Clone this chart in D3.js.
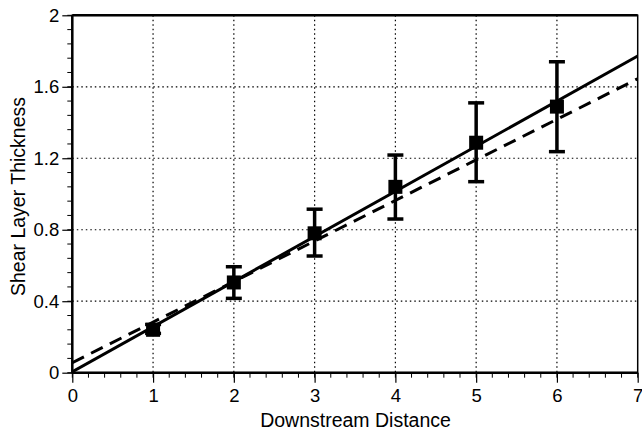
<!DOCTYPE html>
<html><head><meta charset="utf-8">
<script src="https://cdn.jsdelivr.net/npm/d3@7"></script>
<style>body{margin:0;background:#fff}text{font-family:"Liberation Sans",Arial,Helvetica,sans-serif;fill:#000}</style>
</head><body>
<svg id="c" width="642" height="435"></svg>
<script>
const xPts = [1, 2, 3, 4, 5, 6];
const yPts = [0.24, 0.505, 0.78, 1.04, 1.287, 1.489];
const errLo = [0.22, 0.416, 0.653, 0.86, 1.069, 1.237];
const errHi = [0.27, 0.593, 0.915, 1.218, 1.51, 1.74];
const solidLine = [[0, 0.005], [7, 1.772]];
const dashedLine = [[0, 0.056], [7, 1.645]];
const xTicks = [0, 1, 2, 3, 4, 5, 6, 7];
const yTicks = [0, 0.4, 0.8, 1.2, 1.6, 2];
const yTickLabels = ["0", "0.4", "0.8", "1.2", "1.6", "2"];

const svg = d3.select("#c");
const m = {l: 72.3, r: 637.7, t: 15.3, b: 372.7};
const x = d3.scaleLinear().domain([0, 7]).range([m.l, m.r]);
const y = d3.scaleLinear().domain([0, 2]).range([m.b, m.t]);

// grid
const g = svg.append("g");
g.selectAll(".vg").data(xTicks.slice(1, -1)).enter().append("line")
  .attr("x1", d => x(d)).attr("x2", d => x(d)).attr("y1", m.t).attr("y2", m.b)
  .attr("stroke", "#000").attr("stroke-width", 1.2).attr("stroke-dasharray", "1.5,3");
g.selectAll(".hg").data(yTicks.slice(1, -1)).enter().append("line")
  .attr("y1", d => y(d)).attr("y2", d => y(d)).attr("x1", m.l).attr("x2", m.r)
  .attr("stroke", "#000").attr("stroke-width", 1.2).attr("stroke-dasharray", "1.5,3");

// minor ticks
const xMinor = d3.range(0, 7.0001, 0.2);
const yMinor = d3.range(0, 2.0001, 0.08);
svg.append("g").selectAll("line").data(xMinor).enter().append("line")
  .attr("x1", d => x(d)).attr("x2", d => x(d)).attr("y1", m.b).attr("y2", m.b + 5)
  .attr("stroke", "#000").attr("stroke-width", 1);
svg.append("g").selectAll("line").data(yMinor).enter().append("line")
  .attr("y1", d => y(d)).attr("y2", d => y(d)).attr("x1", m.l).attr("x2", m.l - 5)
  .attr("stroke", "#000").attr("stroke-width", 1);

// axes
const xAxis = svg.append("g").attr("transform", `translate(0,${m.b})`)
  .call(d3.axisBottom(x).tickValues(xTicks).tickFormat(d3.format("d")).tickSize(10).tickPadding(6));
const yAxis = svg.append("g").attr("transform", `translate(${m.l},0)`)
  .call(d3.axisLeft(y).tickValues(yTicks).tickFormat((d, i) => yTickLabels[i]).tickSize(10).tickPadding(3));
[xAxis, yAxis].forEach(a => {
  a.select(".domain").remove();
  a.selectAll(".tick line").attr("stroke", "#000").attr("stroke-width", 1.2);
  a.selectAll(".tick text").style("font-size", "18.5px").style("font-family", '"Liberation Sans",Arial,sans-serif');
});

// frame
svg.append("rect").attr("x", m.l).attr("y", m.t).attr("width", m.r - m.l).attr("height", m.b - m.t)
  .attr("fill", "none").attr("stroke", "#000").attr("stroke-width", 1.5);
svg.append("line").attr("x1", m.l).attr("x2", m.r).attr("y1", m.b).attr("y2", m.b).attr("stroke", "#000").attr("stroke-width", 2.5);
svg.append("line").attr("x1", m.l).attr("x2", m.l).attr("y1", m.t).attr("y2", m.b).attr("stroke", "#000").attr("stroke-width", 2.5);
svg.append("line").attr("x1", m.l).attr("x2", m.r).attr("y1", m.t).attr("y2", m.t).attr("stroke", "#000").attr("stroke-width", 2.5);

// fit lines
const line = d3.line().x(d => x(d[0])).y(d => y(d[1]));
svg.append("clipPath").attr("id", "pc").append("rect")
  .attr("x", m.l).attr("y", m.t).attr("width", m.r - m.l).attr("height", m.b - m.t);
svg.append("path").datum(solidLine).attr("d", line).attr("clip-path", "url(#pc)")
  .attr("fill", "none").attr("stroke", "#000").attr("stroke-width", 3);
svg.append("path").datum(dashedLine).attr("d", line).attr("clip-path", "url(#pc)")
  .attr("fill", "none").attr("stroke", "#000").attr("stroke-width", 3).attr("stroke-dasharray", "13,8");

// error bars
const eb = svg.append("g");
xPts.forEach((xv, i) => {
  eb.append("line").attr("x1", x(xv)).attr("x2", x(xv)).attr("y1", y(errLo[i])).attr("y2", y(errHi[i]))
    .attr("stroke", "#000").attr("stroke-width", 3.5);
  [errLo[i], errHi[i]].forEach(v => {
    eb.append("line").attr("x1", x(xv) - 8).attr("x2", x(xv) + 8).attr("y1", y(v)).attr("y2", y(v))
      .attr("stroke", "#000").attr("stroke-width", 3.5);
  });
});
// markers
const s = 14;
svg.append("g").selectAll("rect").data(xPts).enter().append("rect")
  .attr("x", d => x(d) - s / 2).attr("y", (d, i) => y(yPts[i]) - s / 2)
  .attr("width", s).attr("height", s).attr("fill", "#000");

// titles
svg.append("text").attr("x", 355.5).attr("y", 427).attr("text-anchor", "middle")
  .style("font-size", "19.5px").text("Downstream Distance");
svg.append("text").attr("transform", `translate(24.5,196.5) rotate(-90)`).attr("text-anchor", "middle")
  .style("font-size", "19.5px").text("Shear Layer Thickness");
</script>
</body></html>
